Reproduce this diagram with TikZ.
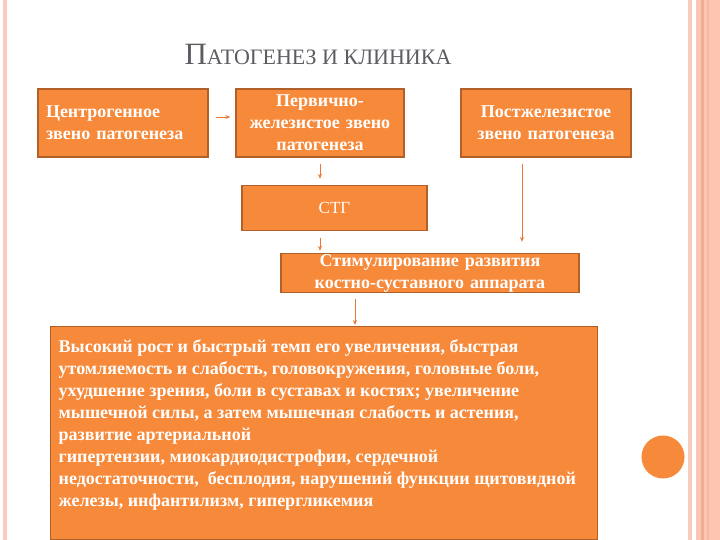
\documentclass[tikz,border=0pt]{standalone}
\usepackage{fontspec}
\setmainfont{Liberation Serif}
\usetikzlibrary{arrows.meta}
\definecolor{boxfill}{RGB}{247,137,58}
\definecolor{boxline}{RGB}{178,96,42}
\definecolor{arrowcol}{RGB}{232,120,50}
\definecolor{titlegray}{RGB}{92,92,98}
\definecolor{framepink}{RGB}{248,204,188}
\definecolor{bandpink}{RGB}{252,198,178}
\definecolor{stripepink}{RGB}{243,172,148}

\begin{document}
\begin{tikzpicture}
	[x=1pt,y=-1pt,
	box/.style={draw=boxline,line width=1.4pt,fill=boxfill,text=white,
		font=\bfseries\fontsize{18}{22}\selectfont,inner xsep=8pt,inner ysep=0pt},
	arr/.style={draw=arrowcol,line width=0.8pt,-{Stealth[length=5pt,width=4pt]}}]
	\useasboundingbox (0,0) rectangle (720,540);
	% frame
	\fill[framepink] (3,0) rectangle (7,540);
	\fill[framepink] (688,0) rectangle (692,540);
	\fill[bandpink] (696,0) rectangle (720,540);
	\fill[stripepink] (700.5,0) rectangle (703.5,540);
	\fill[stripepink!50!bandpink] (707,0) rectangle (709,540);
	\fill[boxfill] (663,457) circle (21.5);
	% title
	\node[anchor=base,text=titlegray,inner sep=0pt] (title) at (318,65)
		{{\fontsize{31}{31}\selectfont П}{\fontsize{22}{22}\selectfont АТОГЕНЕЗ И КЛИНИКА}};
	% boxes
	\node[box,minimum width=170pt,minimum height=68pt,text width=154pt,align=left] (centr) at (123,123)
		{Центрогенное\\звено патогенеза};
	\node[box,minimum width=168pt,minimum height=68pt,text width=152pt,align=center] (perv) at (320,123)
		{Первично-\\железистое звено\\патогенеза};
	\node[box,minimum width=170pt,minimum height=68pt,text width=154pt,align=center] (post) at (546,123)
		{Постжелезистое\\звено патогенеза};
	\node[box,font=\fontsize{17}{20}\selectfont,minimum width=185pt,minimum height=45pt] (stg) at (334.5,208)
		{СТГ};
	\node[box,minimum width=298pt,minimum height=39pt,text width=282pt,align=center] (stim) at (430,273)
		{Стимулирование развития\\костно-суставного аппарата};
	\node[box,anchor=north west] (clin) at (50,326)
		{\parbox[c][213pt][t]{531pt}{\raggedright\vspace*{13pt}%
		Высокий рост и быстрый темп его увеличения, быстрая\\
		утомляемость и слабость, головокружения, головные боли,\\
		ухудшение зрения, боли в суставах и костях; увеличение\\
		мышечной силы, а затем мышечная слабость и астения,\\
		развитие артериальной\\
		гипертензии, миокардиодистрофии, сердечной\\
		недостаточности,~ бесплодия, нарушений функции щитовидной\\
		железы, инфантилизм, гипергликемия}};
	% arrows
	\draw[arr] ([xshift=7pt,yshift=6pt]centr.east) -- ([xshift=-5pt,yshift=6pt]perv.west);
	\draw[arr,shorten <=6pt,shorten >=6pt] (perv.south) -- (perv.south |- stg.north);
	\draw[arr,shorten <=7pt,shorten >=2pt] (perv.south |- stg.south) -- (perv.south |- stim.north);
	\draw[arr,shorten <=6pt,shorten >=11pt] ([xshift=-24pt]post.south) -- ([xshift=-24pt]post.south |- stim.north);
	\draw[arr,shorten <=6pt,shorten >=1pt] ([xshift=-75pt]stim.south) -- ([xshift=-75pt]stim.south |- clin.north);
\end{tikzpicture}
\end{document}
